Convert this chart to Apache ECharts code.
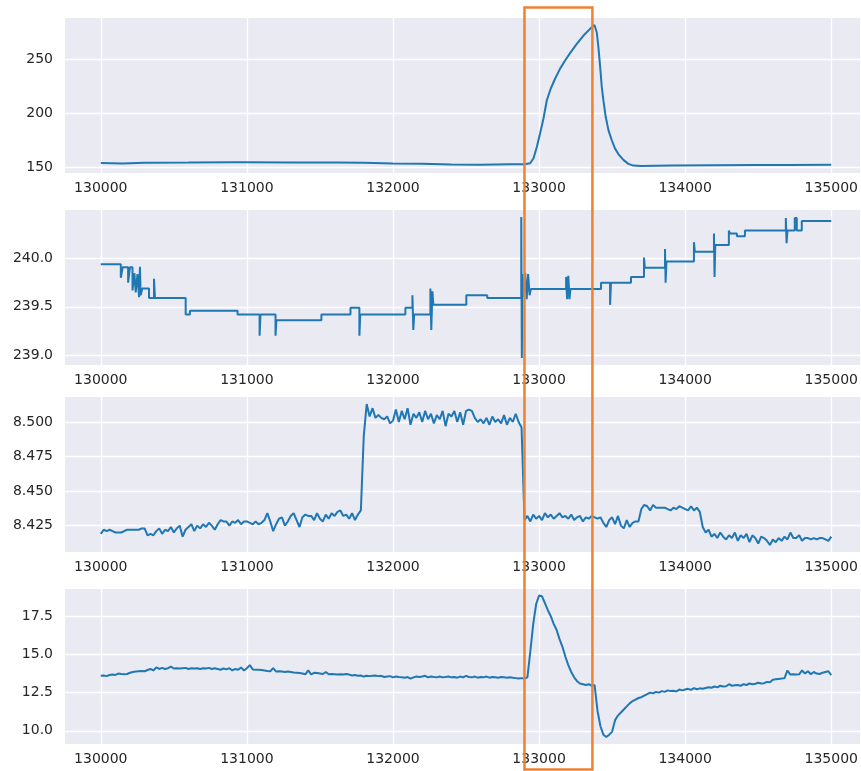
<!DOCTYPE html>
<html>
<head>
<meta charset="utf-8">
<script src="https://cdn.jsdelivr.net/npm/echarts@6/dist/echarts.min.js"></script>
<style>
html,body{margin:0;padding:0;background:#fff;}
#main{width:861px;height:771px;}
</style>
</head>
<body>
<div id="main"></div>
<script>
// x ticks shared by all four panels
var xTicks = [130000, 131000, 132000, 133000, 134000, 135000];

// y ticks per panel
var yTicks1 = [150, 200, 250];
var yTicks2 = [239.0, 239.5, 240.0];
var yTicks3 = [8.425, 8.450, 8.475, 8.500];
var yTicks4 = [10.0, 12.5, 15.0, 17.5];

// highlighted window (orange box)
var boxRange = [132900, 133365];

// panel 1: [x, value]
var s1Points = [
  [130000, 153.7], [130150, 153.2], [130300, 153.8], [130600, 154.0], [130900, 154.4],
  [131000, 154.3], [131300, 154.1], [131600, 154.0], [131800, 153.8], [132000, 153.2],
  [132200, 152.8], [132400, 152.2], [132600, 152.0], [132800, 152.4], [132900, 152.5],
  [132939, 153.4], [132962, 158], [132985, 168.8], [133007, 181.2], [133030, 195],
  [133053, 212], [133080, 222.9], [133110, 232.2], [133144, 241.4], [133178, 249],
  [133212, 255.8], [133258, 264.5], [133304, 272.2], [133349, 278.4], [133379, 282],
  [133395, 275], [133406, 261.4], [133418, 243], [133429, 224.6], [133440, 212],
  [133456, 196.6], [133475, 184], [133497, 175], [133520, 167], [133547, 161.1],
  [133577, 156.5], [133611, 152.8], [133645, 151.2], [133700, 150.8], [133900, 151.2],
  [134200, 151.6], [134500, 151.8], [134700, 151.7], [135000, 151.9]
];

// panel 2: stepped values [x, value]
var s2Points = [
  [130000, 239.94], [130137, 239.94], [130137, 239.80], [130150, 239.80], [130150, 239.91],
  [130187, 239.91], [130187, 239.75], [130200, 239.75], [130200, 239.91], [130217, 239.91],
  [130217, 239.67], [130230, 239.67], [130230, 239.85], [130239, 239.85], [130239, 239.65],
  [130251, 239.65], [130251, 239.84], [130262, 239.84], [130262, 239.60], [130268, 239.60],
  [130268, 239.915], [130273, 239.915], [130273, 239.62], [130284, 239.62], [130284, 239.69],
  [130330, 239.69], [130330, 239.59], [130364, 239.59], [130364, 239.79], [130371, 239.79],
  [130371, 239.59], [130581, 239.59], [130581, 239.42], [130610, 239.42], [130610, 239.46],
  [130936, 239.46], [130936, 239.42], [131087, 239.42], [131087, 239.20], [131093, 239.20],
  [131093, 239.42], [131196, 239.42], [131196, 239.20], [131202, 239.20], [131202, 239.36],
  [131510, 239.36], [131510, 239.42], [131709, 239.42], [131709, 239.49], [131770, 239.49],
  [131770, 239.20], [131776, 239.20], [131776, 239.42], [132085, 239.42], [132085, 239.49],
  [132133, 239.49], [132133, 239.62], [132139, 239.62], [132139, 239.26], [132145, 239.26],
  [132145, 239.42], [132256, 239.42], [132256, 239.69], [132262, 239.69], [132262, 239.26],
  [132270, 239.26], [132270, 239.66], [132276, 239.66], [132276, 239.52], [132502, 239.52],
  [132502, 239.62], [132645, 239.62], [132645, 239.59], [132878, 239.59], [132878, 240.43],
  [132882, 240.43], [132882, 238.97], [132886, 238.97], [132886, 239.84], [132895, 239.84],
  [132895, 239.60], [132905, 239.60], [132905, 239.85], [132915, 239.85], [132915, 239.58],
  [132925, 239.58], [132925, 239.84], [132935, 239.84], [132935, 239.62], [132944, 239.62],
  [132944, 239.685], [133185, 239.685], [133185, 239.81], [133192, 239.81], [133192, 239.58],
  [133200, 239.58], [133200, 239.82], [133208, 239.82], [133208, 239.58], [133215, 239.58],
  [133215, 239.685], [133424, 239.685], [133424, 239.75], [133486, 239.75], [133486, 239.52],
  [133492, 239.52], [133492, 239.75], [133629, 239.75], [133629, 239.81], [133718, 239.81],
  [133718, 240.01], [133724, 240.01], [133724, 239.905], [133862, 239.905], [133862, 240.10],
  [133866, 240.10], [133866, 239.75], [133872, 239.75], [133872, 239.97], [134060, 239.97],
  [134060, 240.17], [134066, 240.17], [134066, 240.07], [134197, 240.07], [134197, 240.26],
  [134201, 240.26], [134201, 239.81], [134206, 239.81], [134206, 240.14], [134299, 240.14],
  [134299, 240.29], [134306, 240.29], [134306, 240.26], [134354, 240.26], [134354, 240.23],
  [134409, 240.23], [134409, 240.29], [134689, 240.29], [134689, 240.42], [134694, 240.42],
  [134694, 240.16], [134700, 240.16], [134700, 240.29], [134750, 240.29], [134750, 240.42],
  [134764, 240.42], [134764, 240.29], [134798, 240.29], [134798, 240.39], [135000, 240.39]
];

// panels 3 and 4: one sample every 20 units from 130000
var sampleStart = 130000;
var sampleStep = 20;

var s3Values = [
  8.419, 8.422, 8.421, 8.422, 8.421, 8.420, 8.420, 8.420, 8.421, 8.422,
  8.422, 8.422, 8.422, 8.422, 8.423, 8.423, 8.418, 8.419, 8.418, 8.421,
  8.423, 8.419, 8.422, 8.421, 8.424, 8.420, 8.423, 8.425, 8.417, 8.422,
  8.424, 8.426, 8.421, 8.425, 8.423, 8.426, 8.424, 8.427, 8.425, 8.422,
  8.426, 8.429, 8.428, 8.428, 8.425, 8.428, 8.427, 8.429, 8.426, 8.428,
  8.428, 8.427, 8.426, 8.428, 8.426, 8.427, 8.429, 8.434, 8.428, 8.421,
  8.426, 8.430, 8.431, 8.425, 8.428, 8.432, 8.434, 8.429, 8.424, 8.431,
  8.433, 8.432, 8.432, 8.429, 8.434, 8.430, 8.428, 8.433, 8.430, 8.434,
  8.432, 8.435, 8.436, 8.432, 8.433, 8.430, 8.434, 8.429, 8.433, 8.436,
  8.490, 8.513, 8.504, 8.510, 8.503, 8.505, 8.503, 8.502, 8.504, 8.499,
  8.501, 8.509, 8.500, 8.508, 8.502, 8.510, 8.498, 8.506, 8.503, 8.507,
  8.500, 8.508, 8.502, 8.506, 8.499, 8.505, 8.502, 8.508, 8.497, 8.506,
  8.504, 8.508, 8.500, 8.507, 8.498, 8.508, 8.509, 8.508, 8.503, 8.500,
  8.502, 8.499, 8.503, 8.498, 8.504, 8.500, 8.502, 8.499, 8.505, 8.498,
  8.503, 8.500, 8.506, 8.500, 8.496, 8.429, 8.432, 8.428, 8.433, 8.430,
  8.432, 8.429, 8.434, 8.431, 8.433, 8.430, 8.432, 8.434, 8.431, 8.432,
  8.430, 8.433, 8.429, 8.431, 8.432, 8.428, 8.431, 8.430, 8.432, 8.431,
  8.430, 8.431, 8.427, 8.424, 8.429, 8.431, 8.426, 8.432, 8.425, 8.423,
  8.429, 8.424, 8.427, 8.428, 8.428, 8.437, 8.440, 8.439, 8.436, 8.440,
  8.438, 8.438, 8.438, 8.438, 8.437, 8.436, 8.438, 8.437, 8.439, 8.438,
  8.437, 8.436, 8.439, 8.436, 8.438, 8.435, 8.424, 8.420, 8.422, 8.417,
  8.419, 8.416, 8.420, 8.417, 8.415, 8.418, 8.416, 8.420, 8.414, 8.418,
  8.416, 8.419, 8.413, 8.418, 8.416, 8.412, 8.417, 8.416, 8.414, 8.411,
  8.415, 8.413, 8.416, 8.414, 8.417, 8.415, 8.420, 8.416, 8.416, 8.418,
  8.414, 8.416, 8.416, 8.415, 8.416, 8.415, 8.416, 8.416, 8.415, 8.414,
  8.417
];

var s4Values = [
  13.60, 13.62, 13.58, 13.65, 13.68, 13.66, 13.75, 13.72, 13.70, 13.72,
  13.80, 13.85, 13.88, 13.90, 13.92, 13.90, 13.98, 14.05, 13.95, 14.15,
  14.05, 14.12, 14.05, 14.10, 14.20, 14.08, 14.10, 14.08, 14.10, 14.12,
  14.05, 14.10, 14.08, 14.10, 14.05, 14.10, 14.08, 14.12, 14.05, 14.10,
  14.05, 14.00, 14.08, 14.02, 14.10, 13.95, 14.05, 14.00, 14.15, 13.95,
  14.10, 14.30, 14.02, 14.00, 14.00, 13.98, 13.95, 13.92, 13.90, 14.10,
  13.88, 13.90, 13.88, 13.85, 13.88, 13.85, 13.82, 13.80, 13.78, 13.75,
  13.70, 13.95, 13.70, 13.80, 13.78, 13.75, 13.72, 13.85, 13.70, 13.72,
  13.70, 13.68, 13.70, 13.68, 13.72, 13.68, 13.62, 13.65, 13.60, 13.62,
  13.55, 13.60, 13.58, 13.60, 13.62, 13.58, 13.60, 13.52, 13.55, 13.58,
  13.50, 13.55, 13.52, 13.50, 13.48, 13.52, 13.42, 13.50, 13.55, 13.52,
  13.55, 13.60, 13.50, 13.55, 13.52, 13.50, 13.55, 13.50, 13.52, 13.55,
  13.50, 13.52, 13.48, 13.55, 13.50, 13.60, 13.52, 13.50, 13.55, 13.48,
  13.52, 13.50, 13.55, 13.48, 13.52, 13.50, 13.48, 13.52, 13.50, 13.48,
  13.50, 13.48, 13.45, 13.42, 13.45, 13.42, 13.50, 15.20, 17.00, 18.30,
  18.85, 18.80, 18.35, 17.90, 17.50, 17.00, 16.60, 16.00, 15.50, 14.85,
  14.30, 13.85, 13.50, 13.25, 13.10, 13.05, 13.00, 13.05, 12.95, 13.00,
  11.30, 10.30, 9.75, 9.60, 9.75, 9.95, 10.70, 11.00, 11.20, 11.40,
  11.60, 11.80, 11.95, 12.05, 12.15, 12.20, 12.30, 12.40, 12.50, 12.45,
  12.55, 12.50, 12.60, 12.55, 12.65, 12.60, 12.62, 12.58, 12.70, 12.65,
  12.70, 12.75, 12.68, 12.80, 12.72, 12.78, 12.75, 12.80, 12.85, 12.82,
  12.90, 12.85, 12.95, 12.90, 12.92, 13.05, 12.95, 12.98, 13.00, 12.95,
  13.05, 13.00, 13.10, 13.05, 13.08, 13.15, 13.10, 13.12, 13.20, 13.18,
  13.35, 13.38, 13.40, 13.42, 13.45, 13.95, 13.68, 13.70, 13.68, 13.70,
  13.95, 13.75, 13.90, 13.70, 13.85, 13.75, 13.72, 13.80, 13.85, 13.90,
  13.65
];

function sampled(values) {
  var out = [];
  for (var i = 0; i < values.length; i++) {
    out.push([sampleStart + i * sampleStep, values[i]]);
  }
  return out;
}

var panels = [
  {top: 18,  data: s1Points,          ticks: yTicks1, min: 144.3,  max: 288.5,  dec: 0},
  {top: 210, data: s2Points,          ticks: yTicks2, min: 238.897, max: 240.503, dec: 1},
  {top: 397, data: sampled(s3Values), ticks: yTicks3, min: 8.4059, max: 8.5181, dec: 3},
  {top: 589, data: sampled(s4Values), ticks: yTicks4, min: 9.14,   max: 19.28,  dec: 1}
];

var textColor = '#262626';
var font = 'DejaVu Sans';

// the plot area runs past the right edge of the picture, so the visible
// x range stops a little after 135000
var grids = [], xAxes = [], yAxes = [], series = [];
panels.forEach(function (p, i) {
  grids.push({
    left: 65, top: p.top, width: 796, height: 155,
    show: true, backgroundColor: '#EAEAF2', borderWidth: 0
  });
  xAxes.push({
    type: 'value', gridIndex: i, min: 129755, max: 135197,
    axisLine: {show: false},
    axisTick: {show: false, customValues: xTicks},
    axisLabel: {
      customValues: xTicks, color: textColor, fontSize: 14, fontFamily: font, margin: 8,
      formatter: function (v) { return String(v); }
    },
    splitLine: {show: true, lineStyle: {color: '#ffffff', width: 1.3}}
  });
  yAxes.push({
    type: 'value', gridIndex: i, min: p.min, max: p.max,
    axisLine: {show: false},
    axisTick: {show: false, customValues: p.ticks},
    axisLabel: {
      customValues: p.ticks, color: textColor, fontSize: 14, fontFamily: font, margin: 12,
      formatter: function (v) { return v.toFixed(p.dec); }
    },
    splitLine: {show: true, lineStyle: {color: '#ffffff', width: 1.3}}
  });
  series.push({
    type: 'line', xAxisIndex: i, yAxisIndex: i, data: p.data,
    showSymbol: false, symbol: 'none', clip: true,
    lineStyle: {color: '#1f77b4', width: 2},
    itemStyle: {color: '#1f77b4'}
  });
});

var chart = echarts.init(document.getElementById('main'), null, {renderer: 'canvas'});
chart.setOption({
  animation: false,
  backgroundColor: '#ffffff',
  grid: grids,
  xAxis: xAxes,
  yAxis: yAxes,
  series: series
});

// orange window drawn over all panels
var bx0 = chart.convertToPixel({xAxisIndex: 0}, boxRange[0]);
var bx1 = chart.convertToPixel({xAxisIndex: 0}, boxRange[1]);
chart.setOption({
  graphic: [{
    type: 'rect', z: 100,
    shape: {x: bx0, y: 7.5, width: bx1 - bx0, height: 762},
    style: {fill: 'none', stroke: '#f0812f', lineWidth: 2.5}
  }]
});
</script>
</body>
</html>
